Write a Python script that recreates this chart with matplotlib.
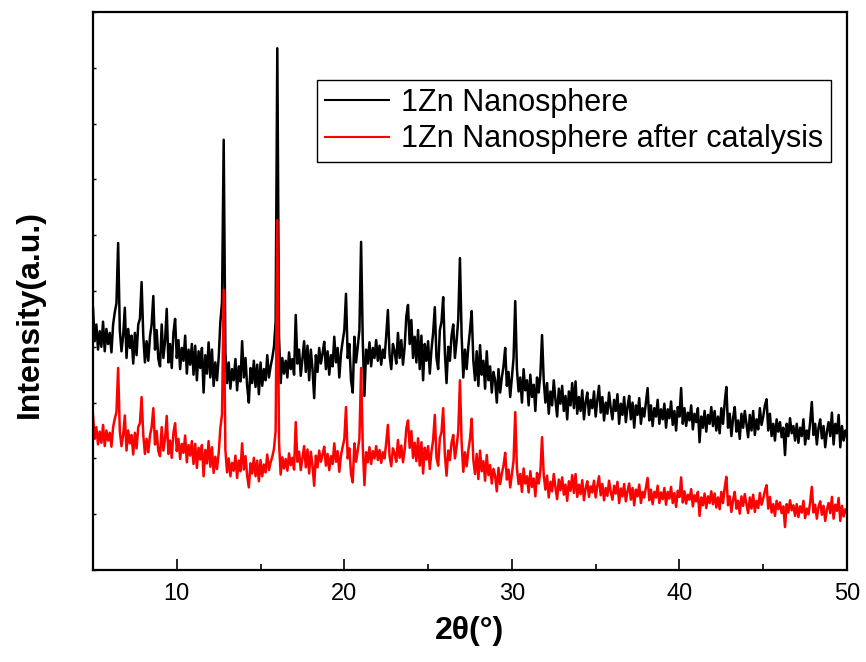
import numpy as np
import matplotlib
matplotlib.use("Agg")
import matplotlib.pyplot as plt
from matplotlib.ticker import MultipleLocator, NullFormatter

plt.rcParams['font.family'] = ['Liberation Sans', 'DejaVu Sans']

# 2-theta grid: 5.0 .. 50.0 deg, step 0.1 (one row = one degree)
two_theta = np.round(np.arange(5.0, 50.05, 0.1), 1)

# intensities (a.u., axis runs 0..1000)
nanosphere = [
    470, 410, 440, 395, 428, 400, 445, 392, 432, 405,
    425, 390, 440, 462, 478, 586, 430, 392, 420, 470,
    380, 432, 398, 420, 370, 425, 385, 440, 450, 516,
    420, 372, 410, 375, 418, 440, 491, 395, 430, 378,
    365, 440, 380, 410, 468, 372, 405, 362, 425, 450,
    380, 412, 360, 398, 375, 420, 352, 395, 368, 405,
    350, 402, 340, 392, 362, 398, 318, 385, 352, 408,
    345, 395, 330, 372, 340, 380, 444, 480, 771, 390,
    335, 372, 325, 360, 340, 378, 322, 365, 338, 410,
    345, 380, 330, 300, 362, 335, 375, 328, 368, 315,
    372, 330, 360, 340, 385, 345, 365, 380, 400, 445,
    935, 420, 335, 380, 352, 375, 345, 390, 360, 378,
    350, 457, 370, 395, 348, 380, 410, 355, 402, 340,
    395, 360, 308, 385, 355, 398, 370, 388, 409, 360,
    392, 350, 385, 365, 418, 372, 398, 345, 388, 410,
    430, 495, 380, 405, 340, 318, 418, 372, 400, 430,
    588, 410, 312, 395, 370, 408, 365, 398, 380, 412,
    375, 402, 368, 395, 380, 420, 466, 385, 360, 405,
    392, 370, 425, 380, 412, 368, 400, 455, 475, 405,
    448, 380, 418, 372, 430, 360, 420, 340, 405, 375,
    410, 352, 395, 425, 471, 380, 360, 430, 445, 489,
    390, 335, 400, 375, 420, 440, 380, 410, 450, 559,
    420, 345, 395, 360, 400, 430, 464, 375, 340, 392,
    330, 403, 350, 375, 325, 392, 340, 365, 318, 355,
    340, 300, 360, 318, 345, 365, 398, 330, 355, 310,
    345, 380, 482, 360, 320, 345, 300, 360, 322, 340,
    295, 350, 310, 332, 285, 345, 318, 350, 421, 340,
    300, 335, 280, 320, 295, 340, 305, 275, 325, 298,
    330, 285, 312, 270, 320, 295, 335, 290, 338, 280,
    310, 285, 322, 270, 300, 318, 278, 305, 290, 320,
    275, 305, 330, 282, 310, 268, 300, 280, 318, 290,
    270, 305, 285, 315, 262, 298, 278, 310, 265, 292,
    312, 270, 300, 255, 295, 278, 308, 262, 290, 275,
    300, 326, 268, 295, 258, 290, 275, 305, 262, 288,
    270, 298, 255, 288, 272, 302, 260, 285, 250, 292,
    275, 326, 262, 290, 258, 282, 268, 295, 252, 280,
    265, 290, 229, 275, 255, 285, 248, 278, 262, 292,
    258, 285, 250, 275, 245, 290, 262, 300, 328, 255,
    280, 240, 272, 292, 248, 268, 235, 280, 255, 285,
    262, 238, 278, 250, 285, 242, 270, 252, 290, 260,
    275, 295, 306, 250, 280, 240, 262, 232, 270, 248,
    265, 238, 255, 206, 262, 240, 272, 245, 258, 232,
    262, 228, 255, 240, 270, 225, 250, 235, 265, 301,
    242, 262, 225, 255, 270, 236, 258, 220, 248, 265,
    240, 282, 225, 262, 245, 278, 220, 258, 232, 250,
    238,
]

after_catalysis = [
    277, 235, 256, 225, 248, 228, 260, 222, 250, 232,
    246, 221, 256, 271, 283, 362, 249, 222, 242, 277,
    214, 250, 227, 242, 207, 246, 218, 256, 263, 310,
    242, 208, 235, 211, 241, 256, 290, 225, 249, 213,
    204, 256, 214, 235, 276, 208, 232, 201, 246, 263,
    213, 235, 199, 226, 210, 241, 193, 224, 205, 231,
    190, 226, 183, 219, 198, 224, 168, 215, 191, 231,
    185, 220, 174, 203, 181, 209, 254, 279, 502, 216,
    175, 200, 168, 192, 178, 205, 165, 196, 177, 227,
    180, 204, 169, 148, 191, 173, 201, 168, 196, 159,
    197, 168, 189, 175, 207, 179, 193, 203, 217, 249,
    627, 230, 171, 202, 182, 199, 178, 209, 188, 201,
    180, 265, 194, 212, 179, 201, 222, 184, 216, 173,
    212, 187, 151, 205, 184, 214, 194, 207, 221, 187,
    208, 179, 204, 190, 227, 194, 213, 176, 206, 221,
    235, 292, 200, 218, 172, 157, 227, 194, 214, 235,
    362, 221, 152, 211, 193, 220, 190, 213, 200, 222,
    197, 215, 192, 211, 200, 228, 260, 204, 186, 218,
    209, 194, 233, 201, 223, 193, 215, 254, 268, 219,
    249, 201, 228, 195, 236, 187, 229, 173, 219, 198,
    222, 181, 212, 233, 278, 201, 187, 236, 247, 290,
    207, 169, 214, 197, 228, 242, 200, 221, 249, 340,
    228, 176, 211, 186, 214, 235, 271, 197, 172, 208,
    163, 214, 177, 195, 160, 206, 170, 188, 155, 181,
    169, 141, 183, 154, 173, 187, 210, 162, 180, 148,
    172, 196, 283, 182, 154, 172, 140, 182, 155, 168,
    139, 177, 149, 164, 132, 174, 155, 177, 238, 170,
    144, 169, 130, 158, 141, 172, 148, 127, 162, 143,
    166, 135, 153, 124, 159, 142, 170, 138, 172, 131,
    153, 136, 161, 125, 146, 159, 131, 150, 139, 160,
    130, 151, 168, 134, 154, 125, 147, 133, 160, 140,
    126, 151, 137, 158, 120, 146, 132, 154, 123, 141,
    155, 126, 147, 116, 144, 132, 153, 120, 140, 130,
    147, 165, 125, 144, 118, 140, 130, 151, 120, 139,
    127, 147, 117, 140, 128, 149, 120, 138, 113, 142,
    131, 166, 121, 141, 119, 135, 126, 145, 114, 134,
    123, 140, 97, 130, 116, 137, 111, 132, 120, 141,
    118, 137, 112, 130, 109, 140, 120, 147, 167, 116,
    132, 104, 126, 140, 110, 124, 101, 132, 115, 136,
    118, 102, 130, 110, 135, 104, 124, 111, 138, 117,
    128, 142, 152, 110, 131, 103, 118, 97, 124, 109,
    121, 102, 114, 77, 118, 103, 125, 107, 116, 97,
    118, 95, 114, 103, 124, 93, 110, 100, 121, 149,
    103, 117, 92, 113, 123, 99, 115, 88, 108, 120,
    102, 131, 92, 117, 106, 129, 88, 115, 96, 109,
    101,
]

labels = ['1Zn Nanosphere', '1Zn Nanosphere after catalysis']
colors = ['black', 'red']

fig = plt.figure(figsize=(8.66, 6.62), dpi=100)
ax = fig.add_axes([93 / 866, 92 / 662, 754 / 866, 558 / 662])

ax.plot(two_theta, nanosphere, color=colors[0], lw=1.8, label=labels[0])
ax.plot(two_theta, after_catalysis, color=colors[1], lw=1.8, label=labels[1])

ax.set_xlim(5, 50)
ax.set_ylim(0, 1000)

ax.xaxis.set_major_locator(MultipleLocator(10))
ax.xaxis.set_minor_locator(MultipleLocator(5))
ax.yaxis.set_major_locator(MultipleLocator(100))
ax.yaxis.set_major_formatter(NullFormatter())

ax.tick_params(axis='x', which='major', direction='in', length=8, width=1.2,
               labelsize=17, pad=9)
ax.tick_params(axis='x', which='minor', direction='in', length=4.5, width=1.2)
ax.tick_params(axis='y', which='major', direction='in', length=2.5, width=1.0)
ax.tick_params(top=False, right=False)

for sp in ax.spines.values():
    sp.set_linewidth(1.6)

ax.set_xlabel('2θ(°)', fontsize=23, fontweight='bold', labelpad=8)
ax.set_ylabel('Intensity(a.u.)', fontsize=23, fontweight='bold')
ax.yaxis.set_label_coords(-0.064, 0.459)

leg = ax.legend(loc='upper left', bbox_to_anchor=(0.297, 0.878), fontsize=22,
                frameon=True, fancybox=False, edgecolor='black', framealpha=1,
                borderaxespad=0, borderpad=0.25, handlelength=2.1,
                handletextpad=0.4, labelspacing=0.22)
leg.get_frame().set_linewidth(1.0)
for line in leg.get_lines():
    line.set_linewidth(1.5)

fig.savefig('out.png', dpi=100)
